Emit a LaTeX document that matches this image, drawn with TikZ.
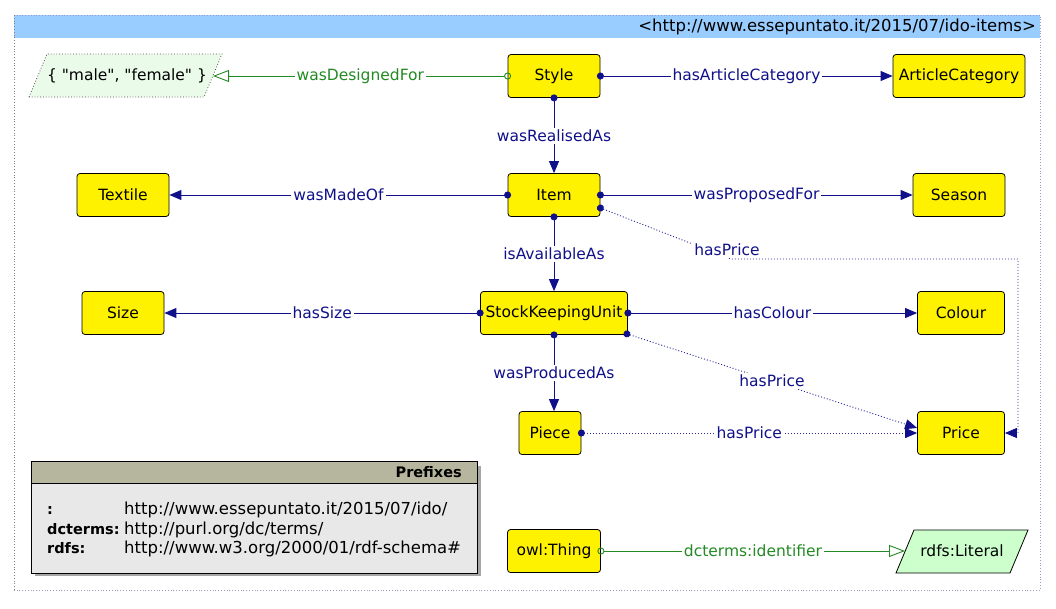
\documentclass[tikz,border=0pt]{standalone}
\usepackage{fontspec}
\setmainfont{DejaVu Sans}[Ligatures=TeXOff]
\usetikzlibrary{arrows.meta,shapes.geometric}
\definecolor{navy}{HTML}{10108A}
\definecolor{dnavy}{HTML}{2A2A9A}
\definecolor{dgreen}{HTML}{248A24}
\definecolor{hdrblue}{HTML}{99CCFF}
\definecolor{litgreen}{HTML}{CCFFCC}
\definecolor{litpale}{HTML}{EAFBEA}
\definecolor{prefhead}{HTML}{B6B69E}
\definecolor{prefbody}{HTML}{E8E8E8}
\definecolor{framecol}{HTML}{9A9AC8}
\tikzset{
  f14/.style={font=\fontsize{15.5}{17}\selectfont},
  f16/.style={font=\fontsize{16.5}{18}\selectfont},
  bf14/.style={font=\fontsize{14.5}{17}\selectfont\bfseries},
  cls/.style={draw=black, fill=yellow, rounded corners=3pt, minimum height=43pt, inner sep=0pt, f14, line width=0.8pt},
  plain/.style={inner sep=0pt, f14},
  obj/.style={draw=navy, line width=0.9pt, shorten <=-3.5pt, {Circle[length=7pt,width=7pt]}-{Triangle[length=12pt,width=10pt]}},
  objd/.style={draw=dnavy, line width=0.9pt, shorten <=-3.5pt, dash pattern=on 1pt off 2pt, {Circle[length=7pt,width=7pt,color=navy]}-{Triangle[length=12pt,width=10pt,color=navy]}},
  dprop/.style={draw=dgreen, line width=0.9pt, shorten <=-3.5pt, {Circle[open,length=7pt,width=7pt]}-{Triangle[open,length=16pt,width=12pt]}},
  lbl/.style={fill=white, text=navy, f14, inner sep=2pt},
  glbl/.style={fill=white, text=dgreen, f14, inner sep=2pt},
}
\begin{document}
\begin{tikzpicture}[x=1pt,y=-1pt]
\useasboundingbox (0,0) rectangle (1056,608);
% frame
\fill[hdrblue] (14,15) rectangle (1040,38);
\draw[framecol, dotted, line width=0.8pt] (14,15) -- (1040,15) -- (1040,590) -- (14,590);
\draw[gray, dotted, line width=0.8pt] (14,15) -- (14,590);
\node[plain, f16, anchor=east] (ns) at (1036,27) {\textless http://www.essepuntato.it/2015/07/ido-items\textgreater};

% classes
\node[cls, minimum width=92pt] (style) at (554,76) {Style};
\node[cls, minimum width=132pt] (artcat) at (959,76) {ArticleCategory};
\node[cls, minimum width=92pt] (item) at (554,195) {Item};
\node[cls, minimum width=92pt] (textile) at (123,195) {Textile};
\node[cls, minimum width=92pt] (season) at (959,195) {Season};
\node[cls, minimum width=147pt] (sku) at (554,313) {StockKeepingUnit};
\node[cls, minimum width=82pt] (size) at (123,313) {Size};
\node[cls, minimum width=87pt] (colour) at (961,313) {Colour};
\node[cls, minimum width=62pt] (piece) at (550,433) {Piece};
\node[cls, minimum width=87pt] (price) at (961,433) {Price};
\node[cls, minimum width=93pt] (thing) at (554,551) {owl:Thing};

% literal datatypes
\draw[black!70, dotted, fill=litpale, line width=0.8pt] (29,97) -- (47,54) -- (222,54) -- (204,97) -- cycle;
\node[plain, minimum width=180pt, minimum height=43pt] (gender) at (127,76) {\{ "male", "female" \}};
\coordinate (genderE) at (213,76);
\draw[black, fill=litgreen, line width=0.8pt] (896,573) -- (914,530) -- (1028,530) -- (1010,573) -- cycle;
\node[plain, minimum width=110pt, minimum height=43pt] (literal) at (962,551) {rdfs:Literal};
\coordinate (literalW) at (905,551);

% prefixes
\fill[gray!70] (35,466) rectangle (481,576);
\draw[fill=prefbody, line width=0.8pt] (31,461) rectangle (477,573);
\draw[fill=prefhead, line width=0.8pt] (31,461) rectangle (477,483);
\node[plain, bf14, anchor=east] (pt) at (462,472) {Prefixes};
\node[plain, bf14, anchor=base west] (p1) at (47,514) {:};
\node[plain, bf14, anchor=base west] (p2) at (47,534) {dcterms:};
\node[plain, bf14, anchor=base west] (p3) at (47,553) {rdfs:};
\node[plain, f16, anchor=base west] (u1) at (124,514) {http://www.essepuntato.it/2015/07/ido/};
\node[plain, f16, anchor=base west] (u2) at (124,534) {http://purl.org/dc/terms/};
\node[plain, f16, anchor=base west] (u3) at (124,553) {http://www.w3.org/2000/01/rdf-schema\#};

% edges
\draw[dprop] (style.west) -- node[glbl]{wasDesignedFor} (genderE);
\draw[obj] (style.east) -- node[lbl]{hasArticleCategory} (artcat.west);
\draw[obj] (style.south) -- node[lbl]{wasRealisedAs} (item.north);
\draw[obj] (item.west) -- node[lbl]{wasMadeOf} (textile.east);
\draw[obj] (item.east) -- node[lbl]{wasProposedFor} (season.west);
\draw[obj] (item.south) -- node[lbl]{isAvailableAs} (sku.north);
\draw[obj] (sku.west) -- node[lbl]{hasSize} (size.east);
\draw[obj] (sku.east) -- node[lbl]{hasColour} (colour.west);
\draw[obj] (sku.south) -- node[lbl]{wasProducedAs} (sku.south |- piece.north);
\coordinate (b1) at (731,259);
\coordinate (b2) at (1018,259);
\coordinate (b3) at (1018,433);
\draw[objd] ([yshift=-13pt]item.east) -- (b1) -- (b2) -- (b3) -- (price.east);
\node[lbl] (hp1) at (727,250) {hasPrice};
\draw[objd] ([xshift=-1pt,yshift=1pt]sku.south east) -- node[lbl]{hasPrice} ([yshift=5pt]price.west);
\draw[objd] (piece.east) -- node[lbl]{hasPrice} (price.west);
\draw[dprop] (thing.east) -- node[glbl]{dcterms:identifier} (literalW);
\end{tikzpicture}
\end{document}
